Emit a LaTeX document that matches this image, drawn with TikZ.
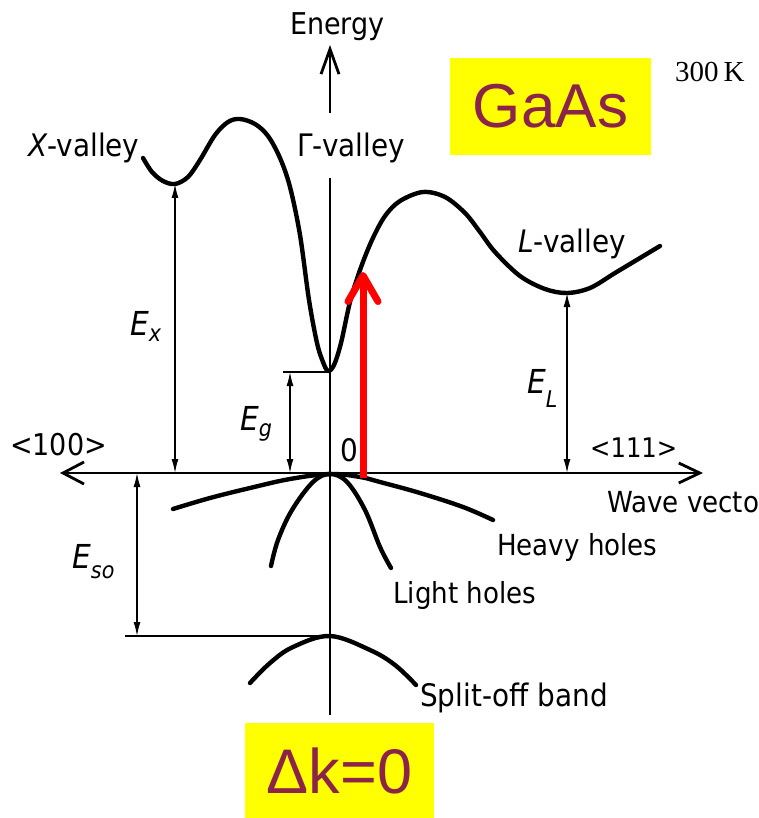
\documentclass[tikz,border=0pt]{standalone}
\usepackage{fontspec}
\setmainfont{DejaVu Sans}[FakeStretch=0.9]
\newfontfamily\arialf{Liberation Sans}
\newfontfamily\timesf{Liberation Serif}
\usetikzlibrary{arrows.meta}
\definecolor{plum}{RGB}{140,35,75}
\definecolor{hiyellow}{RGB}{255,255,0}
\begin{document}
\begin{tikzpicture}[x=1pt,y=-1pt,
  lbl/.style={inner sep=0pt,anchor=base west},
  band/.style={line width=4.4pt,line cap=round,line join=round},
  axisline/.style={line width=2.8pt},
  gap/.style={line width=1.4pt,{Latex[length=14pt,width=7pt]}-{Latex[length=14pt,width=7pt]}},
  thinline/.style={line width=1.5pt},
  ybox/.style={fill=hiyellow,inner sep=0pt,text=plum}]
\useasboundingbox (0,0) rectangle (758,818);
% named points
\coordinate (Etip) at (330,45);
\coordinate (Eaxtop) at (330,113);
\coordinate (Eaxmid) at (330,178);
\coordinate (Eaxbot) at (330,715);
\coordinate (Kleft) at (60,473);
\coordinate (Kright) at (703,473);
\coordinate (O) at (330,473);
\coordinate (Xmin) at (175,184);
\coordinate (Xbase) at (175,473);
\coordinate (Gmin) at (328,372);
\coordinate (Gtick) at (283,372);
\coordinate (Gtop) at (290,372);
\coordinate (Gbase) at (290,473);
\coordinate (Lmin) at (567,293);
\coordinate (Lbase) at (567,473);
\coordinate (SOtop) at (137,473);
\coordinate (SObot) at (137,636);
\coordinate (SOleft) at (125,636);
\coordinate (SOmax) at (330,636);
\coordinate (Rbot) at (363,478);
\coordinate (Rtip) at (363,272);
% axes
\draw[axisline,-{Straight Barb[length=25pt,width=18pt]}] (Eaxtop) -- (Etip);
\draw[line width=2.2pt] (Eaxmid) -- (Eaxbot);
\draw[axisline,{Straight Barb[length=21pt,width=22pt]}-{Straight Barb[length=21pt,width=20pt]}] (Kleft) -- (Kright);
% conduction band
\draw[band] plot[smooth,tension=0.55] coordinates {(143,158) (152,172) (163,181) (175,184) (188,177) (200,160) (215,135) (228,122) (240,119) (255,124) (268,136) (280,158) (290,187) (300,235) (309,300) (317,343) (323,362) (328,371) (334,365) (341,343) (350,302) (360,270) (372,240) (385,216) (400,201) (423,192) (445,197) (465,213) (480,232) (495,252) (520,276) (545,289) (567,293) (590,288) (615,273) (640,258) (660,246)};
% valence bands
\draw[band] plot[smooth,tension=0.6] coordinates {(173,509) (210,498) (250,488) (290,479) (330,474) (360,477) (380,482) (420,493) (463,507) (493,520)};
\draw[band] plot[smooth,tension=0.6] coordinates {(271,566) (278,540) (292,510) (313,482) (330,474) (347,482) (365,510) (380,547) (391,568)};
\draw[band] plot[smooth,tension=0.6] coordinates {(250,683) (270,663) (293,647) (330,636) (370,650) (395,665) (416,685)};
% energy gaps
\draw[gap] (Xmin) -- (Xbase);
\draw[thinline] (Gtick) -- (Gmin);
\draw[gap] (Gtop) -- (Gbase);
\draw[gap] (Lmin) -- (Lbase);
\draw[thinline] (SOleft) -- (SOmax);
\draw[gap] (SOtop) -- (SObot);
% red transition
\draw[red,line width=7pt,-{Straight Barb[length=26pt,width=30pt,round]}] (Rbot) -- (Rtip);
% labels
\node[lbl,font=\fontsize{30}{34}\selectfont] (energy) at (290,35) {Energy};
\node[lbl,font=\fontsize{31}{35}\selectfont] (xval) at (28,157) {\itshape X\upshape-valley};
\node[lbl,font=\fontsize{31}{35}\selectfont] (gval) at (297,157) {Γ-valley};
\node[lbl,font=\fontsize{31}{35}\selectfont] (lval) at (518,252) {\itshape L\upshape-valley};
\node[lbl,font=\fontsize{33}{36}\selectfont] (ex) at (130,335) {\itshape E\raisebox{-6pt}{\fontsize{23}{25}\selectfont x}};
\node[lbl,font=\fontsize{33}{36}\selectfont] (eg) at (240,430) {\itshape E\raisebox{-6pt}{\fontsize{23}{25}\selectfont g}};
\node[lbl,font=\fontsize{33}{36}\selectfont] (el) at (527,393) {\itshape E\raisebox{-14pt}{\fontsize{23}{25}\selectfont L}};
\node[lbl,font=\fontsize{33}{36}\selectfont] (eso) at (72,568) {\itshape E\raisebox{-10pt}{\fontsize{23}{25}\selectfont so}};
\node[lbl,font=\fontsize{30}{33}\selectfont] (k100) at (10,455) {<100>};
\node[lbl,font=\fontsize{27}{31}\selectfont] (k111) at (590,457) {<111>};
\node[lbl,font=\fontsize{31}{35}\selectfont] (zero) at (340,461) {0};
\node[lbl,font=\fontsize{29}{33}\selectfont] (wave) at (607,512) {Wave vecto};
\node[lbl,font=\fontsize{29}{33}\selectfont] (heavy) at (497,555) {Heavy holes};
\node[lbl,font=\fontsize{29}{33}\selectfont] (light) at (393,603) {Light holes};
\node[lbl,font=\fontsize{31}{35}\selectfont] (split) at (420,706) {Split-off band};
\node[lbl,font=\timesf\fontsize{29}{33}\selectfont] (temp) at (675,82) {300\,K};
\node[ybox,minimum width=201pt,minimum height=97pt,font=\arialf\fontsize{62}{70}\selectfont] (gaas) at (550.5,106.5) {GaAs};
\node[ybox,minimum width=189pt,minimum height=96pt,font=\arialf\fontsize{63}{70}\selectfont] (dk) at (339.5,770.5) {Δk=0};
\end{tikzpicture}
\end{document}
